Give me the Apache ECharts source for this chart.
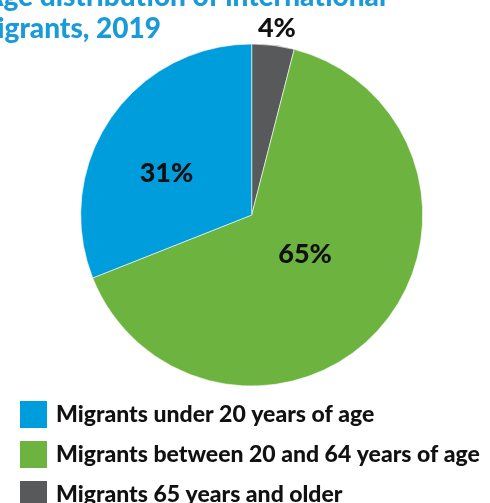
<!DOCTYPE html>
<html>
<head>
<meta charset="utf-8">
<script src="https://cdn.jsdelivr.net/npm/echarts@6/dist/echarts.min.js"></script>
<style>
  html, body { margin: 0; padding: 0; background: #fff; }
  #chart { width: 490px; height: 503px; }
</style>
</head>
<body>
<div id="chart"></div>
<script>
// Age groups, in clockwise drawing order from 12 o'clock
const categories = [
  'Migrants 65 years and older',
  'Migrants between 20 and 64 years of age',
  'Migrants under 20 years of age'
];
const shares = [4, 65, 31];
const colors = ['#58595b', '#6db33f', '#009ddc'];
// Legend lists the groups youngest first
const legendOrder = [
  'Migrants under 20 years of age',
  'Migrants between 20 and 64 years of age',
  'Migrants 65 years and older'
];
const titleLines = ['Age distribution of international', 'migrants, 2019'];

// Small nudges applied to the library-placed percentage labels
const labelNudge = [
  { dx: -16, dy: -11 },
  { dx: -13, dy: -19 },
  { dx: -12, dy: 8 }
];

const chart = echarts.init(document.getElementById('chart'), null, { renderer: 'canvas' });

const FONT = 'Lato, "Open Sans", sans-serif';

chart.setOption({
  animation: false,
  color: colors,
  graphic: [
    {
      type: 'text', right: 490 - 386, top: -17,
      style: { text: titleLines[0], font: '900 28px ' + FONT, fill: '#1a9ad8' }
    },
    {
      type: 'text', right: 490 - 161, top: 15,
      style: { text: titleLines[1], font: '900 28px ' + FONT, fill: '#1a9ad8' }
    }
  ],
  legend: {
    data: legendOrder,
    orient: 'vertical',
    left: 13,
    top: 394,
    height: 140,
    icon: 'rect',
    itemWidth: 29,
    itemHeight: 29,
    itemGap: 9,
    selectedMode: false,
    textStyle: {
      fontFamily: FONT,
      fontWeight: 900,
      fontSize: 23,
      color: '#111',
      padding: [0, 0, 0, 3]
    }
  },
  series: [{
    type: 'pie',
    center: [251.7, 215],
    radius: 171,
    startAngle: 90,
    clockwise: true,
    avoidLabelOverlap: false,
    itemStyle: { borderColor: '#fff', borderWidth: 0.6 },
    label: {
      show: true,
      position: 'inside',
      formatter: '{c}%',
      fontFamily: FONT,
      fontWeight: 900,
      fontSize: 27,
      color: '#111'
    },
    labelLine: { show: false },
    labelLayout: function (p) {
      return labelNudge[p.dataIndex];
    },
    data: categories.map((name, i) => {
      const item = { name: name, value: shares[i] };
      if (i === 0) {
        item.label = { position: 'outside', distanceToLabelLine: 0 };
        item.labelLine = { show: false, length: 6, length2: 0 };
      }
      return item;
    })
  }]
});
</script>
</body>
</html>
